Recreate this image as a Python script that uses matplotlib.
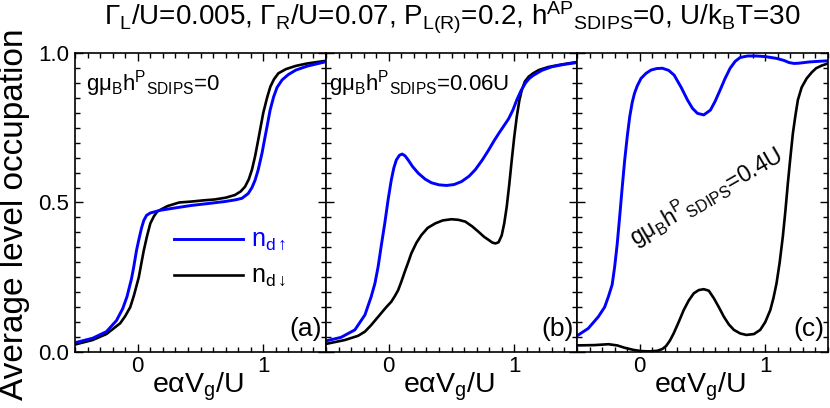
import matplotlib
matplotlib.use("Agg")
import matplotlib.pyplot as plt
from matplotlib.ticker import MultipleLocator, FixedLocator, FixedFormatter
import matplotlib.transforms as mtransforms

plt.rcParams['font.family'] = ['Liberation Sans', 'DejaVu Sans']
plt.rcParams['mathtext.fontset'] = 'custom'
plt.rcParams['mathtext.rm'] = 'Liberation Sans'
plt.rcParams['mathtext.it'] = 'Liberation Sans:italic'
plt.rcParams['mathtext.bf'] = 'Liberation Sans:bold'

# panel (a): h^P_SDIPS = 0
a_up_x = [-0.5, -0.36, -0.25, -0.17, -0.12, -0.086, -0.05, -0.032, -0.01, 0.008, 0.03, 0.048,
          0.07, 0.10, 0.18, 0.3, 0.425, 0.55, 0.69, 0.78, 0.83, 0.88, 0.91, 0.935, 0.96, 0.99,
          1.01, 1.03, 1.055, 1.083, 1.11, 1.15, 1.2, 1.26, 1.35, 1.5]
a_up_y = [0.031, 0.046, 0.068, 0.105, 0.145, 0.185, 0.245, 0.285, 0.34, 0.375, 0.415, 0.44,
          0.457, 0.465, 0.474, 0.482, 0.49, 0.496, 0.503, 0.509, 0.514, 0.53, 0.55, 0.575, 0.61,
          0.665, 0.71, 0.754, 0.81, 0.854, 0.885, 0.91, 0.928, 0.943, 0.956, 0.971]
a_dn_x = [-0.5, -0.36, -0.25, -0.14, -0.1, -0.06, -0.03, 0.008, 0.03, 0.048, 0.075, 0.10, 0.13,
          0.156, 0.2, 0.237, 0.33, 0.425, 0.52, 0.61, 0.7, 0.774, 0.82, 0.855, 0.885, 0.91,
          0.935, 0.96, 0.98, 1.0, 1.03, 1.056, 1.085, 1.12, 1.18, 1.26, 1.35, 1.5]
a_dn_y = [0.025, 0.04, 0.06, 0.096, 0.12, 0.15, 0.19, 0.25, 0.30, 0.34, 0.39, 0.43, 0.455,
          0.47, 0.48, 0.488, 0.5, 0.503, 0.507, 0.51, 0.516, 0.525, 0.537, 0.553, 0.578, 0.61,
          0.655, 0.71, 0.755, 0.80, 0.85, 0.887, 0.912, 0.932, 0.946, 0.957, 0.965, 0.974]

# panel (b): h^P_SDIPS = 0.06U
b_up_x = [-0.5, -0.38, -0.27, -0.19, -0.14, -0.11, -0.085, -0.06, -0.032, -0.005, 0.02, 0.04,
          0.06, 0.085, 0.107, 0.13, 0.155, 0.19, 0.235, 0.29, 0.34, 0.4, 0.46, 0.52, 0.58, 0.64,
          0.69, 0.745, 0.795, 0.84, 0.875, 0.915, 0.955, 0.99, 1.02, 1.055, 1.09, 1.12, 1.155,
          1.22, 1.3, 1.4, 1.5]
b_up_y = [0.037, 0.049, 0.074, 0.124, 0.185, 0.23, 0.285, 0.355, 0.43, 0.51, 0.575, 0.615,
          0.642, 0.658, 0.662, 0.656, 0.642, 0.62, 0.598, 0.578, 0.566, 0.559, 0.557, 0.56, 0.57,
          0.588, 0.61, 0.642, 0.675, 0.707, 0.73, 0.755, 0.78, 0.81, 0.843, 0.875, 0.9, 0.915,
          0.926, 0.942, 0.954, 0.962, 0.968]
b_dn_x = [-0.5, -0.35, -0.245, -0.19, -0.14, -0.1, -0.06, -0.02, 0.02, 0.05, 0.075, 0.1, 0.128,
          0.155, 0.18, 0.22, 0.26, 0.31, 0.37, 0.43, 0.5, 0.555, 0.61, 0.665, 0.715, 0.76, 0.795,
          0.825, 0.85, 0.875, 0.9, 0.92, 0.94, 0.96, 0.98, 1.0, 1.02, 1.04, 1.06, 1.085, 1.115,
          1.15, 1.195, 1.27, 1.355, 1.5]
b_dn_y = [0.027, 0.04, 0.054, 0.068, 0.09, 0.11, 0.13, 0.15, 0.168, 0.188, 0.207, 0.235, 0.269,
          0.30, 0.33, 0.365, 0.391, 0.415, 0.43, 0.44, 0.444, 0.442, 0.436, 0.42, 0.402, 0.385,
          0.375, 0.366, 0.363, 0.367, 0.39, 0.43, 0.486, 0.56, 0.642, 0.72, 0.787, 0.84, 0.876,
          0.905, 0.921, 0.932, 0.943, 0.953, 0.96, 0.97]

# panel (c): h^P_SDIPS = 0.4U
c_up_x = [-0.5, -0.41, -0.33, -0.28, -0.25, -0.22, -0.2, -0.18, -0.16, -0.14, -0.12, -0.1,
          -0.08, -0.06, -0.042, -0.02, 0.01, 0.05, 0.09, 0.135, 0.18, 0.23, 0.274, 0.33, 0.38,
          0.42, 0.46, 0.51, 0.563, 0.6, 0.64, 0.68, 0.72, 0.76, 0.8, 0.86, 0.93, 1.0, 1.09, 1.15,
          1.19, 1.23, 1.27, 1.35, 1.42, 1.5]
c_up_y = [0.054, 0.079, 0.118, 0.15, 0.185, 0.225, 0.285, 0.36, 0.453, 0.55, 0.642, 0.72,
          0.787, 0.835, 0.865, 0.89, 0.915, 0.932, 0.943, 0.948, 0.949, 0.942, 0.926, 0.885,
          0.843, 0.815, 0.798, 0.793, 0.809, 0.838, 0.876, 0.915, 0.949, 0.972, 0.985, 0.99,
          0.99, 0.988, 0.982, 0.975, 0.968, 0.965, 0.966, 0.97, 0.972, 0.974]
c_dn_x = [-0.5, -0.36, -0.25, -0.18, -0.12, -0.05, 0.01, 0.08, 0.14, 0.18, 0.21, 0.24, 0.27,
          0.31, 0.35, 0.39, 0.43, 0.47, 0.51, 0.55, 0.59, 0.63, 0.67, 0.71, 0.75, 0.8, 0.85, 0.91,
          0.96, 1.0, 1.04, 1.065, 1.09, 1.115, 1.14, 1.16, 1.18, 1.2, 1.22, 1.24, 1.26, 1.29,
          1.33, 1.37, 1.405, 1.45, 1.5]
c_dn_y = [0.022, 0.023, 0.026, 0.022, 0.014, 0.007, 0.003, 0.002, 0.004, 0.01, 0.02, 0.038,
          0.062, 0.1, 0.14, 0.172, 0.196, 0.207, 0.21, 0.205, 0.18, 0.15, 0.118, 0.092, 0.074,
          0.062, 0.057, 0.06, 0.074, 0.1, 0.14, 0.18, 0.23, 0.3, 0.386, 0.47, 0.564, 0.65, 0.731,
          0.79, 0.843, 0.885, 0.915, 0.935, 0.949, 0.958, 0.965]

x_ticks = [0, 1]
x_ticklabels = ['0', '1']
y_ticks = [0, 0.5, 1.0]
y_ticklabels = ['0.0', '0.5', '1.0']
panel_tags = ['(a)', '(b)', '(c)']
field_labels = ['gμ$_{\\rm B}$h$^{\\rm P}{}_{\\rm SDIPS}$=0',
                'gμ$_{\\rm B}$h$^{\\rm P}{}_{\\rm SDIPS}$=0.06U',
                'gμ$_{\\rm B}$h$^{\\rm P}{}_{\\rm SDIPS}$=0.4U']
title = ('Γ$_{\\rm L}$/U=0.005, Γ$_{\\rm R}$/U=0.07, P$_{\\rm L(R)}$=0.2, '
         'h$^{\\rm AP}{}_{\\rm SDIPS}$=0, U/k$_{\\rm B}$T=30')

up_color = '#0000ff'
dn_color = 'black'

fig = plt.figure(figsize=(8.3, 4.08), dpi=100)
left, bottom, w, h = 0.0904, 0.1373, 0.3024, 0.7328
axes = [fig.add_axes([left + i * w, bottom, w, h]) for i in range(3)]

curves = [(a_up_x, a_up_y, a_dn_x, a_dn_y),
          (b_up_x, b_up_y, b_dn_x, b_dn_y),
          (c_up_x, c_up_y, c_dn_x, c_dn_y)]

for i, ax in enumerate(axes):
    ux, uy, dx, dy = curves[i]
    ax.plot(dx, dy, color=dn_color, lw=1.9, solid_joinstyle='round')
    ax.plot(ux, uy, color=up_color, lw=2.1, solid_joinstyle='round')
    ax.set_xlim(-0.5, 1.5)
    ax.set_ylim(0, 1)
    ax.xaxis.set_major_locator(FixedLocator(x_ticks))
    ax.xaxis.set_major_formatter(FixedFormatter(x_ticklabels))
    ax.xaxis.set_minor_locator(MultipleLocator(0.1))
    ax.yaxis.set_major_locator(FixedLocator(y_ticks))
    ax.yaxis.set_minor_locator(MultipleLocator(0.05))
    if i == 0:
        ax.yaxis.set_major_formatter(FixedFormatter(y_ticklabels))
    else:
        ax.tick_params(axis='y', labelleft=False)
    ax.tick_params(which='both', direction='in', top=True, right=True, width=1.0)
    ax.tick_params(which='major', length=6)
    ax.tick_params(which='minor', length=3.5)
    ax.tick_params(axis='x', labelsize=16, pad=3)
    ax.tick_params(axis='y', labelsize=16, pad=4)
    for s in ax.spines.values():
        s.set_linewidth(1.2)
    trans = mtransforms.blended_transform_factory(ax.transData, ax.transAxes)
    ax.text(0.48, -0.137, 'eαV$_{\\rm g}$/U', transform=trans, ha='center',
            va='baseline', fontsize=20.5)
    ax.text(1.47, 0.055, panel_tags[i], ha='right', va='baseline', fontsize=19)

axes[0].text(-0.41, 0.876, field_labels[0], ha='left', va='baseline', fontsize=16)
axes[1].text(-0.48, 0.876, field_labels[1], ha='left', va='baseline', fontsize=16)
axes[2].text(0.53, 0.52, field_labels[2], ha='center', va='center', fontsize=16.5,
             rotation=30, rotation_mode='anchor')

# legend drawn by hand inside panel (a)
axes[0].plot([0.29, 0.84], [0.378, 0.378], color=up_color, lw=2.1)
axes[0].plot([0.29, 0.84], [0.258, 0.258], color=dn_color, lw=1.9)
axes[0].text(0.9, 0.355, 'n$_{\\rm d\\uparrow}$', color=up_color, fontsize=18, va='baseline')
axes[0].text(0.9, 0.235, 'n$_{\\rm d\\downarrow}$', color=dn_color, fontsize=18, va='baseline')

fig.text(0.018, 0.475, 'Average level occupation', rotation=90, ha='center',
         va='center', fontsize=24)
fig.text(0.964, 0.955, title, ha='right', va='center', fontsize=20)

fig.savefig('out.png', dpi=100)
